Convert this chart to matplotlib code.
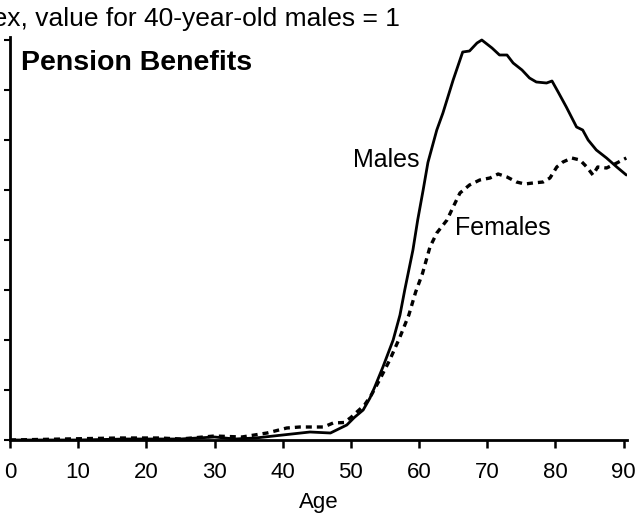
import matplotlib
matplotlib.use("Agg")
import matplotlib.pyplot as plt

plt.rcParams['font.family'] = ['Liberation Sans', 'DejaVu Sans']

male_age = [0, 10, 17, 25, 30, 33, 36, 40, 44, 47, 49.4, 50.5, 51.8, 52.8, 53.5, 54.7,
            56.2, 57.2, 57.9, 58.5, 59.1, 59.8, 60.6, 61.3, 62.6, 63.5, 65, 66, 66.4,
            67.4, 68.5, 69.2, 70.7, 71.8, 72.9, 73.8, 75.1, 76.2, 77.2, 78.7, 79.5,
            80.4, 81.6, 83.1, 84.0, 84.8, 86.0, 87.5, 89.0, 90.4]
male_val = [0, 0, 0.02, 0.02, 0.06, 0.02, 0.04, 0.1, 0.16, 0.14, 0.3, 0.45, 0.6, 0.84,
            1.06, 1.46, 2.0, 2.5, 3.0, 3.4, 3.8, 4.4, 5.0, 5.55, 6.2, 6.54, 7.2, 7.6,
            7.76, 7.78, 7.94, 8.0, 7.84, 7.7, 7.7, 7.54, 7.4, 7.24, 7.16, 7.14, 7.18,
            6.96, 6.66, 6.26, 6.2, 6.0, 5.8, 5.64, 5.46, 5.3]

female_age = [0, 16, 22, 25, 30, 34, 37.7, 40.6, 42.5, 44.4, 46, 47.4, 49, 50, 52, 53,
              54.2, 55.7, 57.2, 58.5, 59.5, 60.5, 61.6, 62.6, 64.1, 65, 66, 67.4, 68.9,
              70.4, 71.6, 72.9, 74.3, 75.5, 76.7, 78.2, 79.2, 80.2, 81.1, 82.4, 83.6,
              84.6, 85.5, 86.2, 87.5, 89, 90.4]
female_val = [0, 0.04, 0.04, 0.02, 0.08, 0.06, 0.14, 0.24, 0.26, 0.26, 0.26, 0.34, 0.35,
              0.45, 0.7, 0.9, 1.2, 1.6, 2.06, 2.5, 2.96, 3.33, 3.86, 4.14, 4.4, 4.66, 4.94,
              5.1, 5.2, 5.24, 5.32, 5.26, 5.16, 5.12, 5.14, 5.16, 5.24, 5.46, 5.56, 5.64,
              5.6, 5.46, 5.3, 5.46, 5.44, 5.54, 5.64]

x_ticks = [0, 10, 20, 30, 40, 50, 60, 70, 80, 90]
y_ticks = [0, 1, 2, 3, 4, 5, 6, 7, 8]

fig = plt.figure(figsize=(6.4, 5.18), dpi=100)
ax = fig.add_axes([10/640, 78/518, (627-10)/640, (440-37)/518])

ax.plot(male_age, male_val, color='black', lw=2.0, solid_capstyle='round')
ax.plot(female_age, female_val, color='black', lw=2.4, linestyle=(0, (1.8, 1.5)))

ax.set_xlim(0, 90.5)
ax.set_ylim(0, 8.06)
ax.set_xticks(x_ticks)
ax.set_xticklabels([str(t) for t in x_ticks], fontsize=16)
ax.set_yticks(y_ticks)
ax.set_yticklabels([])
ax.tick_params(axis='x', direction='out', length=6, width=1.8, pad=9.5)
ax.tick_params(axis='y', direction='out', length=4, width=1.5)
for s in ['top', 'right']:
    ax.spines[s].set_visible(False)
for s in ['left', 'bottom']:
    ax.spines[s].set_linewidth(2)

ax.set_xlabel('Age', fontsize=16, labelpad=6.5)

ax.text(60.1, 5.6, 'Males', fontsize=18, ha='right', va='center')
ax.text(65.2, 4.24, 'Females', fontsize=18, ha='left', va='center')
ax.text(1.6, 7.54, 'Pension Benefits', fontsize=20.5, fontweight='bold', ha='left', va='center')

fig.text(400/640, 1 - 19/518, 'Index, value for 40-year-old males = 1', fontsize=19,
         ha='right', va='center')

fig.savefig('out.png', dpi=100)
